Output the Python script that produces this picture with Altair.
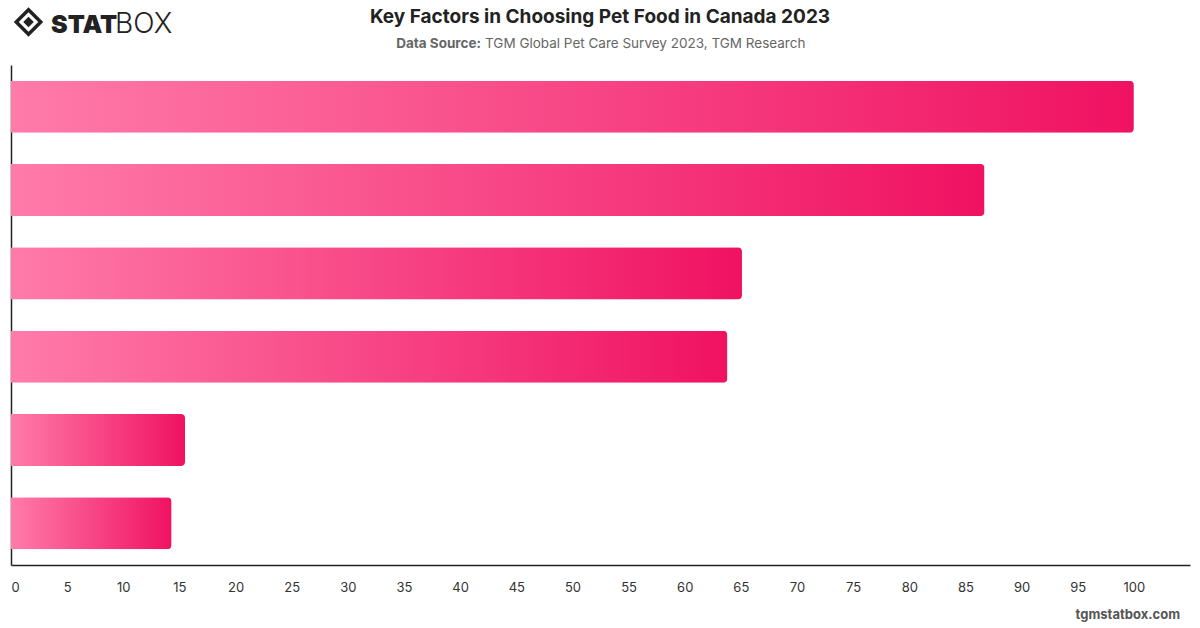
import altair as alt
import pandas as pd

# Survey factors (not labelled on the axis) and their relative scores
factors = ["Factor 1", "Factor 2", "Factor 3", "Factor 4", "Factor 5", "Factor 6"]
scores = [100, 86.7, 65.1, 63.8, 15.5, 14.3]
tick_values = list(range(0, 101, 5))

title_text = "Key Factors in Choosing Pet Food in Canada 2023"
source_label = "Data Source:"
source_text = "TGM Global Pet Care Survey 2023, TGM Research"
footer_text = "tgmstatbox.com"

df = pd.DataFrame({"factor": factors, "score": scores})

# Plot area offset inside the 1200x628 canvas
LEFT, TOP = 11, 65
W, H = 1179, 500

bar_gradient = alt.Gradient(
    gradient="linear",
    x1=0, x2=1, y1=0, y2=0,
    stops=[
        alt.GradientStop(color="#ff7ba9", offset=0),
        alt.GradientStop(color="#f01262", offset=1),
    ],
)

bars = alt.Chart(df).mark_bar(
    color=bar_gradient,
    cornerRadiusTopRight=4,
    cornerRadiusBottomRight=4,
).encode(
    x=alt.X(
        "score:Q",
        scale=alt.Scale(domain=[0, 105], nice=False, zero=True),
        axis=alt.Axis(
            values=tick_values,
            title=None,
            grid=False,
            ticks=False,
            labelPadding=16,
            labelFontSize=13,
            labelFont="Inter",
            labelColor="#333333",
            domainColor="#222222",
            domainWidth=1.5,
        ),
    ),
    y=alt.Y(
        "factor:N",
        sort=factors,
        scale=alt.Scale(paddingInner=0.375, paddingOuter=0.1875),
        axis=alt.Axis(
            labels=False,
            ticks=False,
            title=None,
            grid=False,
            domainColor="#222222",
            domainWidth=1.5,
        ),
    ),
)


def text_layer(text, x, y, **mark_kw):
    return alt.Chart(pd.DataFrame({"t": [text]})).mark_text(**mark_kw).encode(
        text="t:N",
        x=alt.value(x - LEFT),
        y=alt.value(y - TOP),
    )


title = text_layer(title_text, 600, 17, font="Inter", fontSize=19, fontWeight="bold",
                   color="#222222", align="center", baseline="middle")
source_bold = text_layer(source_label, 481, 44, font="Inter", fontSize=13.5, fontWeight="bold",
                         color="#666666", align="right", baseline="middle")
source_rest = text_layer(source_text, 485, 44, font="Inter", fontSize=13.5,
                         color="#666666", align="left", baseline="middle")
footer = text_layer(footer_text, 1180, 615, font="Inter", fontSize=13, fontWeight="bold",
                    color="#555555", align="right", baseline="middle")

# Logo: diamond emblem followed by STAT (heavy) and BOX (light)
logo_outer = alt.Chart(pd.DataFrame({"k": [0]})).mark_point(
    shape="diamond", size=600, filled=False, strokeWidth=3.5, color="#222222", opacity=1
).encode(x=alt.value(28.5 - LEFT), y=alt.value(22 - TOP))
logo_inner = alt.Chart(pd.DataFrame({"k": [0]})).mark_point(
    shape="diamond", size=110, filled=True, color="#222222", opacity=1
).encode(x=alt.value(28.5 - LEFT), y=alt.value(22 - TOP))
logo_stat = text_layer("STAT", 51, 33, font="Inter", fontSize=25, fontWeight=900,
                       color="#222222", align="left", baseline="alphabetic")
logo_box = text_layer("BOX", 115, 33, font="Inter", fontSize=28, fontWeight=300,
                      color="#222222", align="left", baseline="alphabetic")

chart = alt.layer(
    bars, title, source_bold, source_rest, footer,
    logo_outer, logo_inner, logo_stat, logo_box,
).properties(
    width=W,
    height=H,
    autosize=alt.AutoSizeParams(type="none"),
    padding={"left": LEFT, "top": TOP, "right": 1200 - LEFT - W, "bottom": 628 - TOP - H},
    background="white",
).configure_view(stroke=None)

chart.save("out.html", embed_options={"renderer": "svg", "actions": False})
